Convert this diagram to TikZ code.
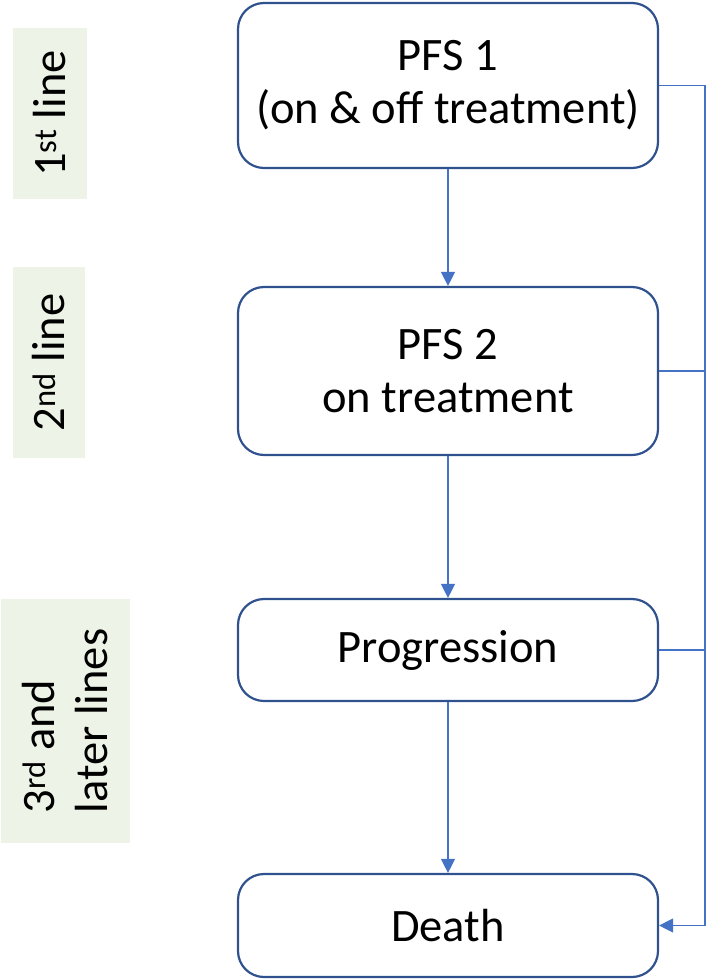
\documentclass[tikz,border=0pt]{standalone}
\usepackage{fontspec}
\setmainfont{Carlito}
\usetikzlibrary{arrows.meta}
\definecolor{boxblue}{HTML}{2F528F}
\definecolor{linkblue}{HTML}{4472C4}
\definecolor{linegreen}{HTML}{EDF4E7}
\begin{document}
\begin{tikzpicture}[x=1pt, y=-1pt,
    every node/.style={font=\fontsize{46.5}{53}\selectfont},
    state/.style={draw=boxblue, line width=2.2pt, rounded corners=26pt, minimum width=420pt, align=center},
    band/.style={fill=linegreen, rotate=90, inner sep=0pt},
    link/.style={draw=linkblue, line width=1.3pt},
    tip/.style={-{Triangle[width=14pt, length=14pt]}}]
    \useasboundingbox (0,0) rectangle (708,980);
    % line of treatment bands
    \node (first)  [band, minimum width=171pt, minimum height=74pt] at (50,113.5) {1\textsuperscript{st} line};
    \node (second) [band, minimum width=191pt, minimum height=72pt] at (49,362.5) {2\textsuperscript{nd} line};
    \node (later)  [band, minimum width=244pt, minimum height=129pt, align=left] at (65.5,721) {3\textsuperscript{rd} and\\later lines};
    % states
    \node (pfs1)  [state, minimum height=165pt] at (448,85.5) {PFS 1\\(on \& off treatment)};
    \node (pfs2)  [state, minimum height=168pt] at (448,371) {PFS 2\\on treatment};
    \node (prog)  [state, minimum height=102pt] at (448,650) {Progression};
    \node (death) [state, minimum height=103pt] at (448,925.5) {Death};
    \coordinate (rail) at (705,0);
    \draw[link, tip] (pfs1) -- (pfs2);
    \draw[link, tip] (pfs2) -- (prog);
    \draw[link, tip] (prog) -- (death);
    \draw[link, tip] (pfs1.east) -- (pfs1.east -| rail) |- (death.east);
    \draw[link] (pfs2.east) -- (pfs2.east -| rail);
    \draw[link] (prog.east) -- (prog.east -| rail);
\end{tikzpicture}
\end{document}
